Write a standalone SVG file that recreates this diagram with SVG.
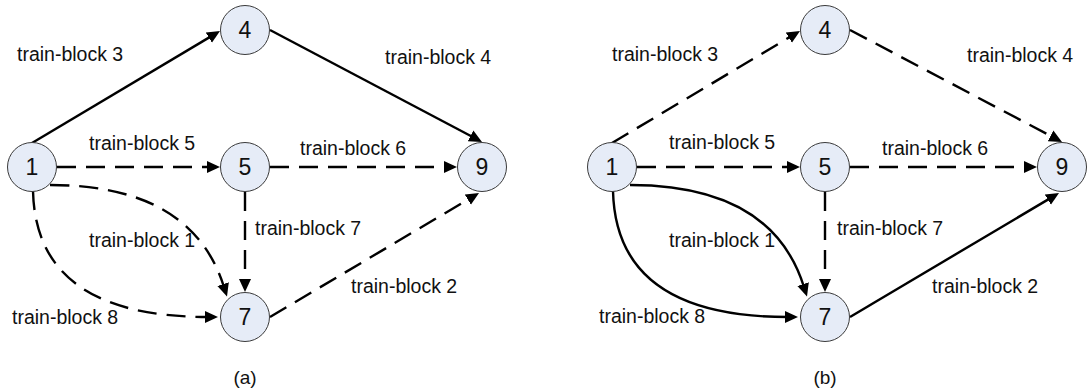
<svg xmlns="http://www.w3.org/2000/svg" width="1090" height="392" viewBox="0 0 1090 392">
  <style>
    .node circle { fill: #e6ecf7; stroke: #3a3a3a; stroke-width: 1; }
    .node text { font-family: "Liberation Sans", Arial, sans-serif; font-size: 23px; fill: #111; text-anchor: middle; dominant-baseline: central; }
    .edge { fill: none; stroke: #000; stroke-width: 2.4; marker-end: url(#arrow); }
    .dash { stroke-dasharray: 19 10; }
    .label { font-family: "Liberation Sans", Arial, sans-serif; font-size: 19.5px; fill: #111; }
    .caption { font-family: "Liberation Sans", Arial, sans-serif; font-size: 19px; fill: #111; text-anchor: middle; }
  </style>
  <defs>
    <!-- filled arrowhead; refX=3 lets the stroke tuck under the head -->
    <marker id="arrow" markerUnits="userSpaceOnUse" markerWidth="16" markerHeight="13" refX="3" refY="0" viewBox="0 -6.5 16 13" orient="auto">
      <path d="M0,-6 L13,0 L0,6 z" fill="#000"/>
    </marker>
  </defs>
  <rect width="1090" height="392" fill="#fff"/>

  <!-- Panel (a) connectors -->
  <g id="edges-a">
    <path class="edge" d="M32,143 L211.4,36.1"/>
    <path class="edge" d="M270,30 L473.2,137.3"/>
    <path class="edge dash" d="M57,167 L210,167"/>
    <path class="edge dash" d="M270,167 L447,167"/>
    <path class="edge dash" d="M245,192 L245,282"/>
    <path class="edge dash" d="M270,317 L470.4,198.1"/>
    <path class="edge dash" d="M50,185 Q192,185 224,287"/>
    <path class="edge dash" d="M33,191 Q36,317 208,317"/>
  </g>

  <!-- Panel (b) connectors -->
  <g id="edges-b">
    <path class="edge dash" d="M612,143 L791.4,36.1"/>
    <path class="edge dash" d="M850,30 L1053.2,137.3"/>
    <path class="edge dash" d="M637,167 L790,167"/>
    <path class="edge dash" d="M850,167 L1027,167"/>
    <path class="edge dash" d="M825,192 L825,282"/>
    <path class="edge" d="M850,317 L1050.4,198.1"/>
    <path class="edge" d="M630,185 Q772,185 804,287"/>
    <path class="edge" d="M613,191 Q616,317 788,317"/>
  </g>

  <!-- Panel (a) nodes -->
  <g id="a-n1" class="node"><circle cx="32" cy="167" r="24.5"/><text x="32" y="167">1</text></g>
  <g id="a-n4" class="node"><circle cx="245" cy="30" r="24.5"/><text x="245" y="30">4</text></g>
  <g id="a-n5" class="node"><circle cx="245" cy="167" r="24.5"/><text x="245" y="167">5</text></g>
  <g id="a-n9" class="node"><circle cx="482" cy="167" r="24.5"/><text x="482" y="167">9</text></g>
  <g id="a-n7" class="node"><circle cx="245" cy="317" r="24.5"/><text x="245" y="317">7</text></g>

  <!-- Panel (b) nodes -->
  <g id="b-n1" class="node"><circle cx="612" cy="167" r="24.5"/><text x="612" y="167">1</text></g>
  <g id="b-n4" class="node"><circle cx="825" cy="30" r="24.5"/><text x="825" y="30">4</text></g>
  <g id="b-n5" class="node"><circle cx="825" cy="167" r="24.5"/><text x="825" y="167">5</text></g>
  <g id="b-n9" class="node"><circle cx="1062" cy="167" r="24.5"/><text x="1062" y="167">9</text></g>
  <g id="b-n7" class="node"><circle cx="825" cy="317" r="24.5"/><text x="825" y="317">7</text></g>

  <!-- Panel (a) labels -->
  <g id="labels-a" class="label">
    <text x="17" y="61">train-block 3</text>
    <text x="385" y="64">train-block 4</text>
    <text x="89" y="150">train-block 5</text>
    <text x="300" y="155">train-block 6</text>
    <text x="255" y="235">train-block 7</text>
    <text x="89" y="247">train-block 1</text>
    <text x="351" y="293">train-block 2</text>
    <text x="12" y="324">train-block 8</text>
  </g>

  <!-- Panel (b) labels -->
  <g id="labels-b" class="label">
    <text x="612" y="61">train-block 3</text>
    <text x="967" y="62">train-block 4</text>
    <text x="669" y="149">train-block 5</text>
    <text x="882" y="155">train-block 6</text>
    <text x="837" y="235">train-block 7</text>
    <text x="669" y="247">train-block 1</text>
    <text x="932" y="293">train-block 2</text>
    <text x="599" y="323">train-block 8</text>
  </g>

  <text class="caption" x="245" y="384">(a)</text>
  <text class="caption" x="825" y="384">(b)</text>
</svg>
